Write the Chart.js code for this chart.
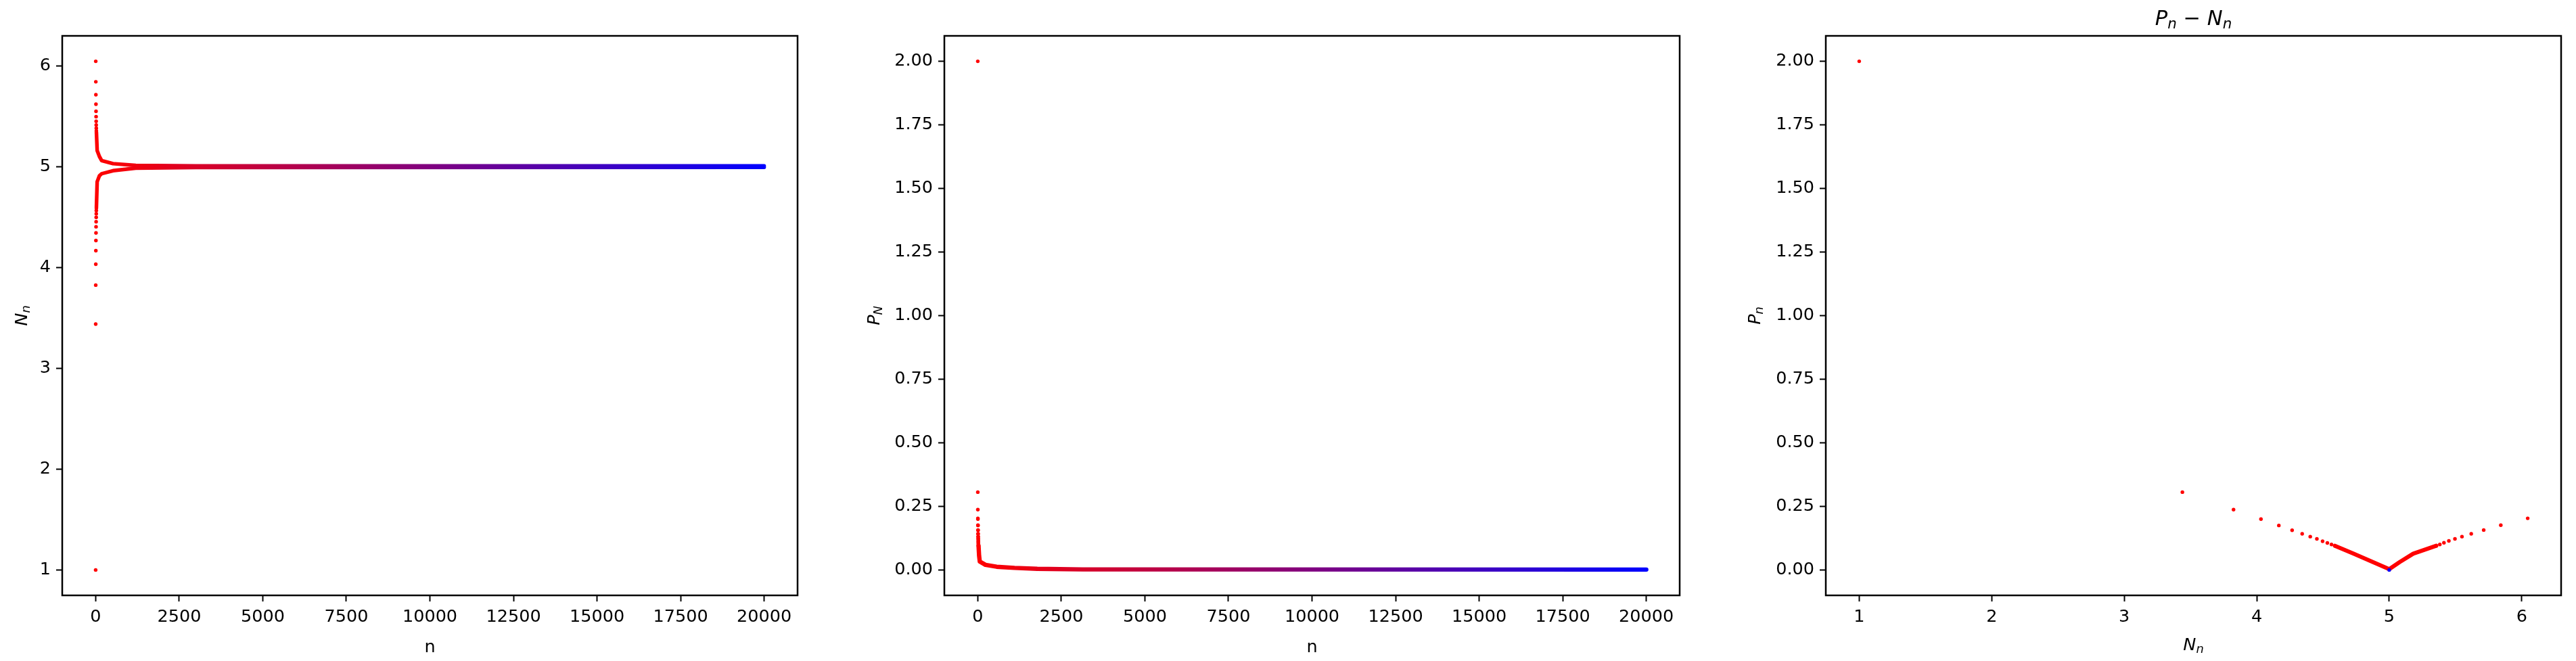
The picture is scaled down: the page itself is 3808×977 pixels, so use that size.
<!DOCTYPE html>
<html>
<head>
<meta charset="utf-8">
<script src="https://cdn.jsdelivr.net/npm/chart.js@4.4.0/dist/chart.umd.min.js"></script>
<style>
  html, body { margin: 0; padding: 0; background: #fff; }
  #wrap { position: relative; width: 3808px; height: 977px; overflow: hidden; }
  canvas { position: absolute; top: 0; }
</style>
</head>
<body>
<div id="wrap">
  <canvas id="c1" width="1250" height="977" style="left:0px"></canvas>
  <canvas id="c2" width="1300" height="977" style="left:1250px"></canvas>
  <canvas id="c3" width="1258" height="977" style="left:2550px"></canvas>
</div>
<script>
// first iterations, one value per n (they stack at n = 0 on the n axis)
const nEarly = [0, 1, 2, 3, 4, 5, 6, 7, 8, 9, 10, 11, 12, 13, 14, 15, 16, 17, 18, 19, 20, 21, 22];
const NEarly = [1, 3.439, 3.825, 6.045, 4.032, 5.842, 4.167, 5.713, 4.267, 5.619, 4.343, 5.549,
                4.404, 5.496, 4.454, 5.45, 4.497, 5.413, 4.533, 5.382, 4.564, 5.355, 4.59];
const PEarly = [2.0, 0.306, 0.237, 0.203, 0.2, 0.176, 0.175, 0.157, 0.156, 0.142, 0.142, 0.131,
                0.131, 0.122, 0.122, 0.114, 0.113, 0.107, 0.106, 0.1, 0.1, 0.095, 0.095];

// dense part
const nUpper = [23, 45, 113, 180, 520, 1200, 3000, 20000];
const NUpper = [5.34, 5.16, 5.1, 5.06, 5.03, 5.012, 5.008, 5.007];
const nLower = [23, 45, 113, 180, 520, 1200, 3000, 20000];
const NLower = [4.6, 4.85, 4.91, 4.93, 4.96, 4.985, 4.992, 4.993];
const nP = [23, 40, 60, 230, 565, 1100, 1780, 3130, 20000];
const PDense = [0.095, 0.055, 0.033, 0.02, 0.0125, 0.008, 0.0045, 0.002, 0.0015];

// P against N near the fixed point
const NLeftV = [4.59, 4.73, 4.868, 5.0];
const PLeftV = [0.095, 0.064, 0.033, 0.003];
const NRightV = [5.355, 5.181, 5.079, 5.0];
const PRightV = [0.095, 0.064, 0.031, 0.003];
const NLast = 5.0, PLast = 0.0;

const nTicks = [0, 2500, 5000, 7500, 10000, 12500, 15000, 17500, 20000];
const NTicks = [1, 2, 3, 4, 5, 6];
const PTicks = [0, 0.25, 0.5, 0.75, 1.0, 1.25, 1.5, 1.75, 2.0];

const nFirst = 0, nLastIdx = 20000;

function pts(xs, ys) { return xs.map((x, i) => ({ x: x, y: ys[i] })); }
function limits(vals) {
  const lo = Math.min(...vals), hi = Math.max(...vals), m = (hi - lo) * 0.05;
  return [lo - m, hi + m];
}

const FONT = 'DejaVu Sans';
const TICK_SIZE = 25.5;

function nGradient(ctx) {
  const chart = ctx.chart;
  if (!chart.chartArea) return 'red';
  const x = chart.scales.x;
  const g = chart.ctx.createLinearGradient(x.getPixelForValue(nFirst), 0, x.getPixelForValue(nLastIdx), 0);
  g.addColorStop(0, 'rgb(255,0,0)');
  g.addColorStop(1, 'rgb(0,0,255)');
  return g;
}

const frame = {
  id: 'frame',
  afterDatasetsDraw(chart) {
    const a = chart.chartArea, c = chart.ctx;
    c.save();
    c.strokeStyle = '#000';
    c.lineWidth = 2.5;
    c.strokeRect(a.left, a.top, a.right - a.left, a.bottom - a.top);
    c.restore();
  }
};

// axis labels with subscripts, drawn like matplotlib mathtext
const mathLabels = {
  id: 'mathLabels',
  afterDraw(chart, args, opts) {
    const c = chart.ctx, a = chart.chartArea;
    (opts.items || []).forEach(it => {
      const size = it.size;
      const fontOf = p => (p.it ? 'italic ' : '') + (p.sub ? size * 0.7 : size) + 'px "' + FONT + '"';
      let total = 0;
      it.parts.forEach(p => { c.font = fontOf(p); total += c.measureText(p.t).width; });
      c.save();
      c.fillStyle = '#000';
      c.textBaseline = 'alphabetic';
      c.textAlign = 'left';
      if (it.rotate) {
        c.translate(it.x, (a.top + a.bottom) / 2);
        c.rotate(-Math.PI / 2);
      } else {
        c.translate((a.left + a.right) / 2, it.y);
      }
      let cx = -total / 2;
      it.parts.forEach(p => {
        c.font = fontOf(p);
        c.fillText(p.t, cx, p.sub ? size * 0.15 : 0);
        cx += c.measureText(p.t).width;
      });
      c.restore();
    });
  }
};

function axis(min, max, ticks, fmt, fitFn) {
  return {
    type: 'linear',
    min: min, max: max,
    afterBuildTicks: s => { s.ticks = ticks.map(v => ({ value: v })); },
    afterFit: fitFn,
    grid: { drawOnChartArea: false, drawTicks: true, tickLength: 9, tickWidth: 2, tickColor: '#000' },
    border: { display: false },
    ticks: {
      color: '#000', font: { family: FONT, size: TICK_SIZE },
      padding: 8, maxRotation: 0, autoSkip: false,
      callback: fmt
    }
  };
}

function makeChart(id, yAxisWidth, padRight, datasets, xs, ys, labels) {
  return new Chart(document.getElementById(id), {
    type: 'scatter',
    data: { datasets: datasets },
    options: {
      responsive: false,
      animation: false,
      devicePixelRatio: 1,
      layout: { padding: { top: 53, right: padRight, left: 0, bottom: 0 } },
      plugins: { legend: { display: false }, tooltip: { enabled: false }, mathLabels: { items: labels } },
      scales: {
        x: axis(xs.min, xs.max, xs.ticks, xs.fmt, s => { s.height = 97; }),
        y: axis(ys.min, ys.max, ys.ticks, ys.fmt, s => { s.width = yAxisWidth; })
      }
    },
    plugins: [frame, mathLabels]
  });
}

const dot = { showLine: false, pointRadius: 2.7, pointBorderWidth: 0, pointHoverRadius: 2.7 };
const line = { showLine: true, pointRadius: 0, pointHoverRadius: 0, borderCapStyle: 'round', borderJoinStyle: 'round', tension: 0 };

const nLim = limits([nFirst, nLastIdx - 1]);
const NLim = limits(NEarly);
const PLim = limits(PEarly.concat([PLast]));
const intFmt = v => String(v);
const fix2 = v => v.toFixed(2);

// N_n against n
makeChart('c1', 92, 71, [
  Object.assign({ data: pts(nEarly, NEarly), backgroundColor: 'rgb(255,0,0)' }, dot),
  Object.assign({ data: pts(nUpper, NUpper), borderColor: nGradient, borderWidth: 5.4 }, line),
  Object.assign({ data: pts(nLower, NLower), borderColor: nGradient, borderWidth: 5.4 }, line)
], { min: nLim[0], max: nLim[1], ticks: nTicks, fmt: intFmt },
   { min: NLim[0], max: NLim[1], ticks: NTicks, fmt: intFmt },
   [
     { parts: [{ t: 'n' }], size: TICK_SIZE, y: 964 },
     { parts: [{ t: 'N', it: true }, { t: 'n', it: true, sub: true }], size: TICK_SIZE, rotate: true, x: 40 }
   ]);

// P_N against n
makeChart('c2', 146, 67, [
  Object.assign({ data: pts(nEarly, PEarly), backgroundColor: 'rgb(255,0,0)' }, dot),
  Object.assign({ data: pts(nP, PDense), borderColor: nGradient, borderWidth: 6.4 }, line)
], { min: nLim[0], max: nLim[1], ticks: nTicks, fmt: intFmt },
   { min: PLim[0], max: PLim[1], ticks: PTicks, fmt: fix2 },
   [
     { parts: [{ t: 'n' }], size: TICK_SIZE, y: 964 },
     { parts: [{ t: 'P', it: true }, { t: 'N', it: true, sub: true }], size: TICK_SIZE, rotate: true, x: 50 }
   ]);

// P_n against N_n
makeChart('c3', 149, 22, [
  Object.assign({ data: [{ x: NLast, y: PLast }], backgroundColor: 'rgb(0,0,255)' }, dot),
  Object.assign({ data: pts(NEarly, PEarly), backgroundColor: 'rgb(255,0,0)' }, dot),
  Object.assign({ data: pts(NLeftV, PLeftV), borderColor: 'rgb(255,0,0)', borderWidth: 6 }, line),
  Object.assign({ data: pts(NRightV, PRightV), borderColor: 'rgb(255,0,0)', borderWidth: 6 }, line)
], { min: NLim[0], max: NLim[1], ticks: NTicks, fmt: intFmt },
   { min: PLim[0], max: PLim[1], ticks: PTicks, fmt: fix2 },
   [
     { parts: [{ t: 'N', it: true }, { t: 'n', it: true, sub: true }], size: TICK_SIZE, y: 961 },
     { parts: [{ t: 'P', it: true }, { t: 'n', it: true, sub: true }], size: TICK_SIZE, rotate: true, x: 52 },
     { parts: [{ t: 'P', it: true }, { t: 'n', it: true, sub: true }, { t: ' \u2212 ' },
               { t: 'N', it: true }, { t: 'n', it: true, sub: true }], size: 30.6, y: 37 }
   ]);
</script>
</body>
</html>
